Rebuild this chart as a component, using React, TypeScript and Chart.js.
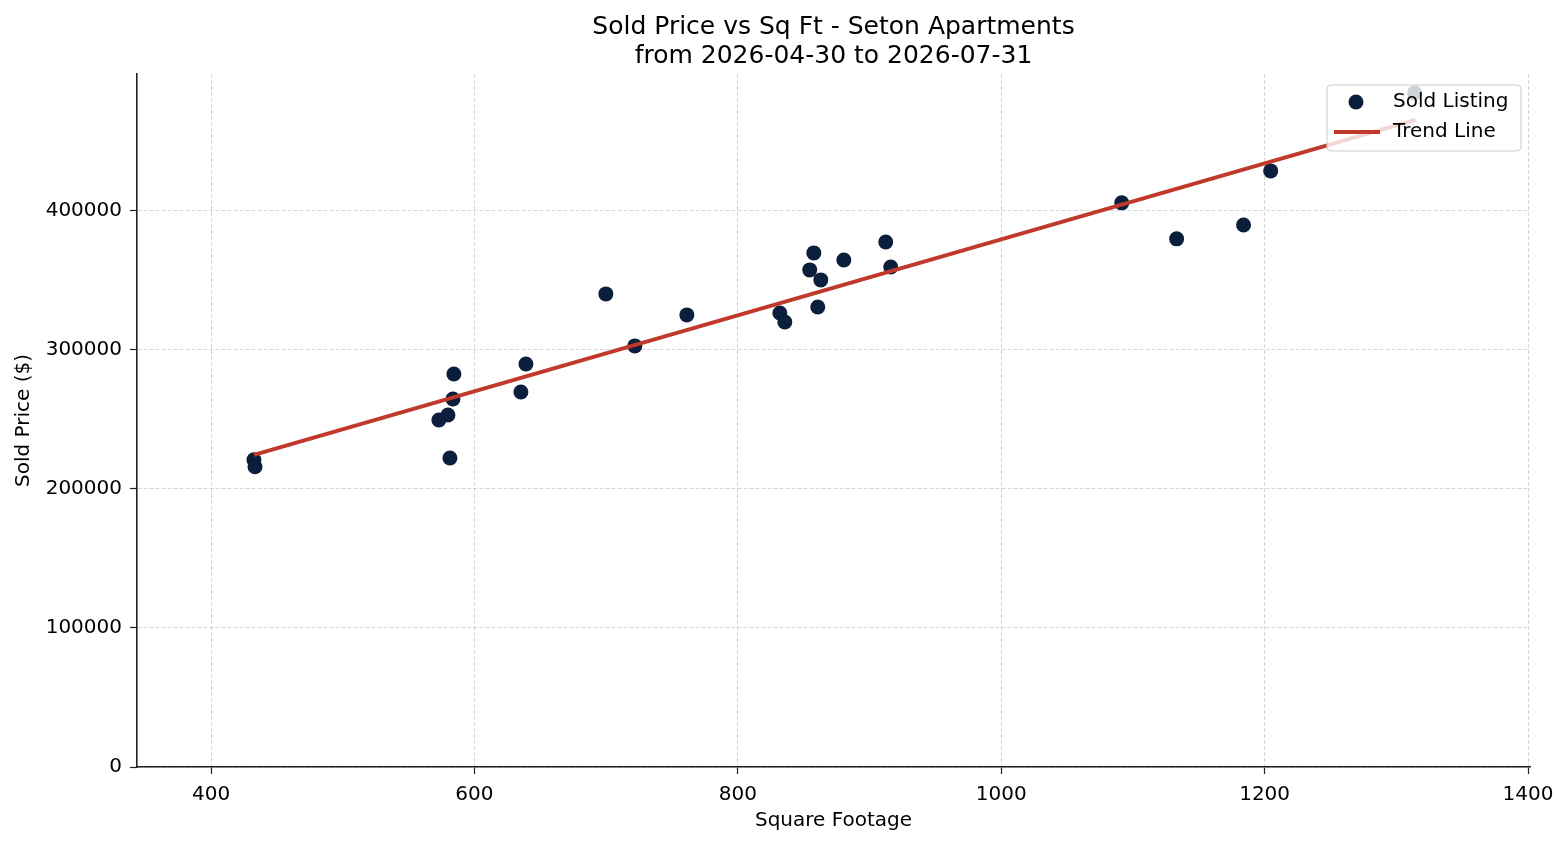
import { useEffect, useRef } from 'react';
import { Chart, registerables, Plugin } from 'chart.js';

Chart.register(...registerables);

// sold listings
const sqFt = [432.6, 433.4, 573, 579.9, 581.4, 583.7, 584.4, 635.3, 639.1, 699.8, 721.8, 761.3, 831.9, 835.7, 854.6, 857.7, 860.7, 863, 880.5, 912.3, 916.1, 1091.5, 1133.2, 1184, 1204.6, 1313.9];
const soldPrice = [221000, 216000, 249600, 253200, 222300, 264700, 282700, 269800, 289900, 340300, 302900, 325200, 326600, 320100, 357600, 369800, 330900, 350400, 364700, 377700, 359700, 405800, 379900, 389900, 428800, 484900];

// trend line end points
const trendX = [432.6, 1314.6];
const trendY = [224500, 465500];

const xTicks = [400, 600, 800, 1000, 1200, 1400];
const yTicks = [0, 100000, 200000, 300000, 400000];

const titleLines = ['Sold Price vs Sq Ft - Seton Apartments', 'from 2026-04-30 to 2026-07-31'];

const FONT = "'DejaVu Sans', sans-serif";
const NAVY = '#0b1e3b';
const RED = '#c0392b';

// matplotlib-style legend inside the axes, upper right
const boxLegend: Plugin<'scatter'> = {
  id: 'boxLegend',
  afterDatasetsDraw(chart) {
    const { ctx, chartArea } = chart;
    const w = 194, h = 66;
    const x = chartArea.right - 9 - w;
    const y = chartArea.top + 11;
    ctx.save();
    ctx.beginPath();
    ctx.roundRect(x, y, w, h, 4);
    ctx.fillStyle = 'rgba(255,255,255,0.8)';
    ctx.fill();
    ctx.strokeStyle = '#cccccc';
    ctx.lineWidth = 1;
    ctx.stroke();

    ctx.fillStyle = NAVY;
    ctx.beginPath();
    ctx.arc(x + 29, y + 17, 7.5, 0, Math.PI * 2);
    ctx.fill();

    ctx.strokeStyle = RED;
    ctx.lineWidth = 4;
    ctx.beginPath();
    ctx.moveTo(x + 7, y + 47);
    ctx.lineTo(x + 53, y + 47);
    ctx.stroke();

    ctx.fillStyle = '#000';
    ctx.font = `20px ${FONT}`;
    ctx.textBaseline = 'middle';
    ctx.textAlign = 'left';
    chart.data.datasets.forEach((ds, i) => {
      ctx.fillText(ds.label as string, x + 66, y + 17 + i * 30);
    });
    ctx.restore();
  },
};

export default function App() {
  const canvasRef = useRef<HTMLCanvasElement | null>(null);

  useEffect(() => {
    if (!canvasRef.current) return;
    Chart.defaults.font.family = FONT;
    Chart.defaults.color = '#000';

    const chart = new Chart(canvasRef.current, {
      type: 'scatter',
      data: {
        datasets: [
          {
            type: 'scatter',
            label: 'Sold Listing',
            data: sqFt.map((x, i) => ({ x, y: soldPrice[i] })),
            backgroundColor: NAVY,
            borderWidth: 0,
            pointRadius: 7.5,
            order: 2,
          },
          {
            type: 'line',
            label: 'Trend Line',
            data: trendX.map((x, i) => ({ x, y: trendY[i] })),
            borderColor: RED,
            borderWidth: 4,
            pointRadius: 0,
            fill: false,
            order: 1,
          } as any,
        ],
      },
      options: {
        animation: false,
        responsive: false,
        layout: { padding: { top: 0, right: 38, bottom: 0, left: 0 } },
        plugins: {
          legend: { display: false },
          tooltip: { enabled: false },
          title: {
            display: true,
            fullSize: false,
            text: titleLines,
            font: { size: 25, weight: 'normal', lineHeight: 1.15 },
            color: '#000',
            padding: { top: 13.6, bottom: 2.9 },
          },
        },
        scales: {
          x: {
            type: 'linear',
            min: 343.8,
            max: 1401.5,
            afterBuildTicks: (s) => { s.ticks = xTicks.map((value) => ({ value })); },
            afterFit: (s) => { s.height = 78; },
            ticks: { font: { size: 20 }, padding: 9, maxRotation: 0, callback: (v) => String(v) },
            grid: { color: 'rgba(0,0,0,0.16)', lineWidth: 1, tickColor: '#222', tickLength: 7, tickWidth: 1.2 },
            border: { display: true, color: '#222', width: 1.6, dash: [4, 2] },
            title: { display: true, text: 'Square Footage', font: { size: 20 }, padding: { top: 0, bottom: 12 } },
          },
          y: {
            type: 'linear',
            min: 0,
            max: 498500,
            afterBuildTicks: (s) => { s.ticks = yTicks.map((value) => ({ value })); },
            afterFit: (s) => { s.width = 137; },
            ticks: { font: { size: 20 }, padding: 8, callback: (v) => String(v) },
            grid: { color: 'rgba(0,0,0,0.16)', lineWidth: 1, tickColor: '#222', tickLength: 7, tickWidth: 1.2 },
            border: { display: true, color: '#222', width: 1.6, dash: [4, 2] },
            title: { display: true, text: 'Sold Price ($)', font: { size: 20 }, padding: { top: 12, bottom: 0 } },
          },
        },
      },
      plugins: [boxLegend],
    });

    return () => chart.destroy();
  }, []);

  return (
    <div style={{ position: 'fixed', left: 0, top: 0, width: 1568, height: 845, background: '#fff' }}>
      <canvas ref={canvasRef} width={1568} height={845} style={{ width: 1568, height: 845 }} />
    </div>
  );
}
